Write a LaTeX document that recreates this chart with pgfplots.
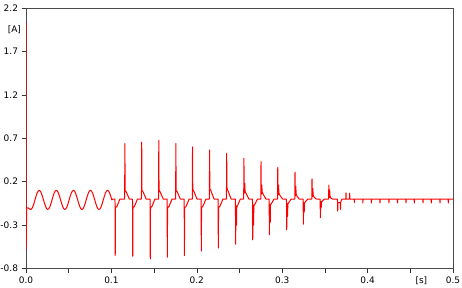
\documentclass[border=0pt]{standalone}
\usepackage{fontspec}
\setmainfont{DejaVu Sans}
\usepackage{pgfplots}
\pgfplotsset{compat=1.18}
\begin{document}
\begin{tikzpicture}
\path[use as bounding box] (-26bp,-19bp) rectangle (436bp,268.5bp);
\begin{axis}[
  at={(0,0)}, anchor=south west,
  scale only axis, width=427bp, height=260.5bp,
  xmin=0, xmax=0.5, ymin=-0.8, ymax=2.2,
  xtick={0,0.05,0.1,0.15,0.2,0.25,0.3,0.35,0.4,0.45,0.5},
  xticklabels={0.0,,0.1,,0.2,,0.3,,0.4,,0.5},
  ytick={-0.8,-0.3,0.2,0.7,1.2,1.7,2.2},
  yticklabel style={/pgf/number format/.cd,fixed,fixed zerofill,precision=1},
  /pgf/number format/assume math mode=true,
  tick align=outside, tick pos=left,
  major tick length=4.5bp,
  tick label style={font=\fontsize{9}{10}\selectfont, text=black},
  axis line style={black!70, line width=0.8pt},
  tick style={black!80, line width=0.6pt},
  clip mode=individual,
]
\addplot[red, line width=1pt, line join=round] coordinates {
(0,2.05)(0.0002,-0.58)(0.0008,-0.11)(0.00175,-0.10)(0.003,-0.105)(0.00425,-0.115)(0.0055,-0.12)(0.00675,-0.112)(0.008,-0.088)(0.00925,-0.052)(0.0105,-0.01)(0.01175,0.032)(0.013,0.068)(0.01425,0.092)(0.0155,0.10)(0.01675,0.092)(0.018,0.068)(0.01925,0.032)(0.0205,-0.01)
(0.02175,-0.052)(0.023,-0.088)(0.02425,-0.112)(0.0255,-0.12)(0.02675,-0.112)(0.028,-0.088)(0.02925,-0.052)(0.0305,-0.01)(0.03175,0.032)(0.033,0.068)(0.03425,0.092)(0.0355,0.10)(0.03675,0.092)(0.038,0.068)(0.03925,0.032)(0.0405,-0.01)
(0.04175,-0.052)(0.043,-0.088)(0.04425,-0.112)(0.0455,-0.12)(0.04675,-0.112)(0.048,-0.088)(0.04925,-0.052)(0.0505,-0.01)(0.05175,0.032)(0.053,0.068)(0.05425,0.092)(0.0555,0.10)(0.05675,0.092)(0.058,0.068)(0.05925,0.032)(0.0605,-0.01)
(0.06175,-0.052)(0.063,-0.088)(0.06425,-0.112)(0.0655,-0.12)(0.06675,-0.112)(0.068,-0.088)(0.06925,-0.052)(0.0705,-0.01)(0.07175,0.032)(0.073,0.068)(0.07425,0.092)(0.0755,0.10)(0.07675,0.092)(0.078,0.068)(0.07925,0.032)(0.0805,-0.01)
(0.08175,-0.052)(0.083,-0.088)(0.08425,-0.112)(0.0855,-0.12)(0.08675,-0.112)(0.088,-0.088)(0.08925,-0.052)(0.0905,-0.01)(0.09175,0.032)(0.093,0.068)(0.09425,0.092)(0.0955,0.10)(0.09675,0.092)(0.098,0.068)(0.09925,0.032)(0.1005,-0.01)
(0.1015,0)
(0.1042,0)(0.1045,-0.65)(0.1048,-0.1)(0.1065,-0.085)(0.1100,0)(0.1155,0)(0.1158,0.64)(0.1161,0.1)(0.1175,0.08)(0.1210,0)
(0.1247,0)(0.1250,-0.66)(0.1253,-0.1)(0.1270,-0.085)(0.1305,0)(0.1352,0)(0.1355,0.655)(0.1358,0.1)(0.1372,0.08)(0.1407,0)
(0.1452,0)(0.1455,-0.69)(0.1458,-0.1)(0.1475,-0.085)(0.1510,0)(0.1552,0)(0.1555,0.675)(0.1558,0.1)(0.1572,0.08)(0.1607,0)
(0.1652,0)(0.1655,-0.67)(0.1658,-0.1)(0.1675,-0.085)(0.1710,0)(0.1752,0)(0.1755,0.64)(0.1758,0.1)(0.1772,0.08)(0.1807,0)
(0.1852,0)(0.1855,-0.65)(0.1858,-0.1)(0.1875,-0.085)(0.1910,0)(0.1947,0)(0.1950,0.60)(0.1953,0.11)(0.1967,0.085)(0.2002,0)
(0.2050,0)(0.2053,-0.60)(0.2056,-0.1)(0.2073,-0.08)(0.2108,0)(0.2147,0)(0.2150,0.565)(0.2153,0.12)(0.2167,0.09)(0.2202,0)
(0.2249,0)(0.2252,-0.565)(0.2255,-0.1)(0.2272,-0.08)(0.2307,0)(0.2347,0)(0.2350,0.525)(0.2353,0.13)(0.2367,0.09)(0.2402,0)
(0.2452,0)(0.2455,-0.52)(0.2458,-0.1)(0.2462,-0.08)(0.2465,-0.3)(0.2468,-0.09)(0.2480,-0.07)(0.2510,0)(0.2549,0)(0.2552,0.47)(0.2555,0.08)(0.2559,0.07)(0.2562,0.18)(0.2565,0.09)(0.2580,0.06)(0.2610,0)
(0.2652,0)(0.2655,-0.47)(0.2658,-0.09)(0.2662,-0.07)(0.2665,-0.3)(0.2668,-0.08)(0.2680,-0.06)(0.2710,0)(0.2749,0)(0.2752,0.43)(0.2755,0.07)(0.2759,0.06)(0.2762,0.16)(0.2765,0.08)(0.2780,0.05)(0.2810,0)
(0.2847,0)(0.2850,-0.41)(0.2853,-0.08)(0.2857,-0.06)(0.2860,-0.27)(0.2863,-0.07)(0.2875,-0.05)(0.2905,0)(0.2945,0)(0.2948,0.365)(0.2951,0.06)(0.2955,0.05)(0.2958,0.16)(0.2961,0.07)(0.2975,0.04)(0.3005,0)
(0.3050,0)(0.3053,-0.355)(0.3056,-0.07)(0.3060,-0.05)(0.3063,-0.2)(0.3066,-0.06)(0.3078,-0.04)(0.3105,0)(0.3147,0)(0.3150,0.31)(0.3153,0.05)(0.3157,0.04)(0.3160,0.145)(0.3163,0.06)(0.3175,0.03)(0.3200,0)
(0.3245,0)(0.3248,-0.29)(0.3251,-0.06)(0.3255,-0.04)(0.3258,-0.15)(0.3261,-0.05)(0.3273,-0.03)(0.3300,0)(0.3346,0)(0.3349,0.233)(0.3352,0.04)(0.3356,0.03)(0.3359,0.12)(0.3362,0.05)(0.3375,0.02)(0.3400,0)
(0.3444,0)(0.3447,-0.215)(0.3450,-0.05)(0.3454,-0.03)(0.3457,-0.1)(0.3460,-0.04)(0.3472,-0.02)(0.3495,0)(0.3543,0)(0.3546,0.16)(0.3549,0.03)(0.3553,0.02)(0.3556,0.105)(0.3559,0.04)(0.3570,0.01)(0.3590,0)
(0.3647,0)(0.3650,-0.14)(0.3653,-0.04)(0.3680,-0.04)(0.3683,-0.12)(0.3686,-0.03)(0.3700,0)(0.3744,0)(0.3747,0.072)(0.3750,0)(0.3787,0)(0.3790,0.068)(0.3793,0)
(0.3843,0)(0.3845,-0.04)(0.3847,0)(0.3943,0)(0.3945,-0.045)(0.3947,0)(0.4043,0)(0.4045,-0.045)(0.4047,0)(0.4143,0)(0.4145,-0.045)(0.4147,0)
(0.4248,0)(0.4250,-0.045)(0.4252,0)(0.4348,0)(0.4350,-0.045)(0.4352,0)(0.4448,0)(0.4450,-0.045)(0.4452,0)(0.4545,0)(0.4547,-0.045)(0.4549,0)
(0.4647,0)(0.4649,-0.045)(0.4651,0)(0.4744,0)(0.4746,-0.045)(0.4748,0)(0.4846,0)(0.4848,-0.045)(0.4850,0)(0.4943,0)(0.4945,-0.045)(0.4947,0)(0.5,0)
};
\node[anchor=east, font=\fontsize{9}{10}\selectfont, text=black, xshift=-1.5bp] at (axis cs:0,1.95) {[A]};
\node[anchor=north, font=\fontsize{9}{10}\selectfont, text=black, yshift=-4.5bp] at (axis cs:0.463,-0.8) {[s]};
\end{axis}
\end{tikzpicture}
\end{document}
